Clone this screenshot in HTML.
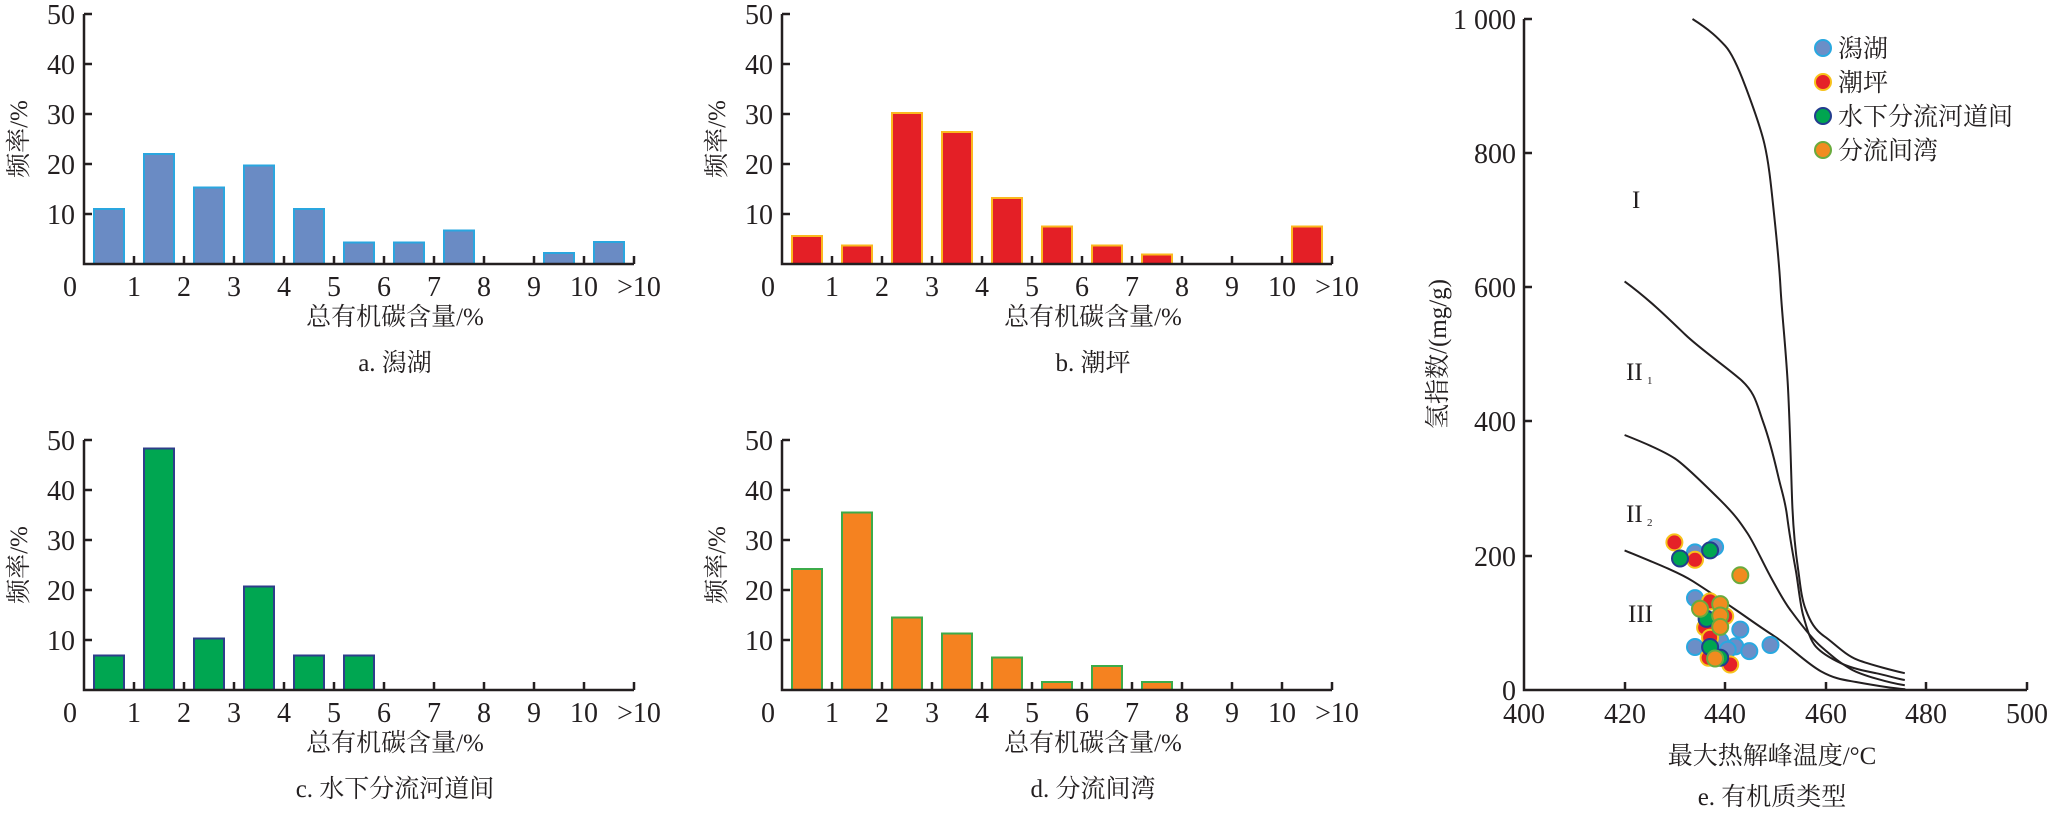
<!DOCTYPE html>
<html><head><meta charset="utf-8"><style>
html,body{margin:0;padding:0;background:#fff;}
svg{display:block;}
text{font-family:"Liberation Serif","Noto Serif CJK SC",serif;fill:#231f20;}
.n{font-size:28px;}
.t{font-size:25px;}
</style></head><body>
<svg width="2050" height="816" viewBox="0 0 2050 816" xmlns="http://www.w3.org/2000/svg">
<defs>
<g id="ax">
<path d="M0,-250V0H550M0,-50h8M0,-100h8M0,-150h8M0,-200h8M0,-250h8M50,0v-8M100,0v-8M150,0v-8M200,0v-8M250,0v-8M300,0v-8M350,0v-8M400,0v-8M450,0v-8M500,0v-8M550,0v-8" fill="none" stroke="#231f20" stroke-width="2.5"/>
<g class="n" text-anchor="end"><text x="-9" y="-40">10</text><text x="-9" y="-90">20</text><text x="-9" y="-140">30</text><text x="-9" y="-190">40</text><text x="-9" y="-240">50</text></g>
<g class="n" text-anchor="middle"><text x="-14" y="32">0</text><text x="50" y="32">1</text><text x="100" y="32">2</text><text x="150" y="32">3</text><text x="200" y="32">4</text><text x="250" y="32">5</text><text x="300" y="32">6</text><text x="350" y="32">7</text><text x="400" y="32">8</text><text x="450" y="32">9</text><text x="500" y="32">10</text><text x="555" y="32">&gt;10</text></g>
</g>
</defs>

<!-- a -->
<g transform="translate(84,264)">
<g fill="#6a8bc4" stroke="#2aa6df" stroke-width="2">
<rect x="10" y="-55" width="30" height="55"/><rect x="60" y="-110" width="30" height="110"/><rect x="110" y="-76.5" width="30" height="76.5"/><rect x="160" y="-98.5" width="30" height="98.5"/><rect x="210" y="-55" width="30" height="55"/><rect x="260" y="-21.5" width="30" height="21.5"/><rect x="310" y="-21.5" width="30" height="21.5"/><rect x="360" y="-33.5" width="30" height="33.5"/><rect x="460" y="-11" width="30" height="11"/><rect x="510" y="-22" width="30" height="22"/>
</g>
<use href="#ax"/>
<text class="t" transform="translate(-57,-125) rotate(-90)" text-anchor="middle">频率/%</text>
<text class="t" x="311" y="61" text-anchor="middle">总有机碳含量/%</text>
<text class="t" x="311" y="107" text-anchor="middle">a. 潟湖</text>
</g>

<!-- b -->
<g transform="translate(782,264)">
<g fill="#e41f26" stroke="#fbb81f" stroke-width="2">
<rect x="10" y="-28" width="30" height="28"/><rect x="60" y="-18.5" width="30" height="18.5"/><rect x="110" y="-151" width="30" height="151"/><rect x="160" y="-132" width="30" height="132"/><rect x="210" y="-66" width="30" height="66"/><rect x="260" y="-37.5" width="30" height="37.5"/><rect x="310" y="-18.5" width="30" height="18.5"/><rect x="360" y="-9.5" width="30" height="9.5"/><rect x="510" y="-37.5" width="30" height="37.5"/>
</g>
<use href="#ax"/>
<text class="t" transform="translate(-57,-125) rotate(-90)" text-anchor="middle">频率/%</text>
<text class="t" x="311" y="61" text-anchor="middle">总有机碳含量/%</text>
<text class="t" x="311" y="107" text-anchor="middle">b. 潮坪</text>
</g>

<!-- c -->
<g transform="translate(84,690)">
<g fill="#00a651" stroke="#2e3e8a" stroke-width="2">
<rect x="10" y="-34.5" width="30" height="34.5"/><rect x="60" y="-241.5" width="30" height="241.5"/><rect x="110" y="-51.5" width="30" height="51.5"/><rect x="160" y="-103.5" width="30" height="103.5"/><rect x="210" y="-34.5" width="30" height="34.5"/><rect x="260" y="-34.5" width="30" height="34.5"/>
</g>
<use href="#ax"/>
<text class="t" transform="translate(-57,-125) rotate(-90)" text-anchor="middle">频率/%</text>
<text class="t" x="311" y="61" text-anchor="middle">总有机碳含量/%</text>
<text class="t" x="311" y="107" text-anchor="middle">c. 水下分流河道间</text>
</g>

<!-- d -->
<g transform="translate(782,690)">
<g fill="#f58220" stroke="#3cab4a" stroke-width="2">
<rect x="10" y="-121" width="30" height="121"/><rect x="60" y="-177.5" width="30" height="177.5"/><rect x="110" y="-72.5" width="30" height="72.5"/><rect x="160" y="-56.5" width="30" height="56.5"/><rect x="210" y="-32.5" width="30" height="32.5"/><rect x="260" y="-8" width="30" height="8"/><rect x="310" y="-24" width="30" height="24"/><rect x="360" y="-8" width="30" height="8"/>
</g>
<use href="#ax"/>
<text class="t" transform="translate(-57,-125) rotate(-90)" text-anchor="middle">频率/%</text>
<text class="t" x="311" y="61" text-anchor="middle">总有机碳含量/%</text>
<text class="t" x="311" y="107" text-anchor="middle">d. 分流间湾</text>
</g>

<!-- e -->
<path d="M1524,19V690H2027M1524,19h8M1524,153h8M1524,287h8M1524,421h8M1524,556h8M1625,690v-8M1725,690v-8M1826,690v-8M1926,690v-8M2027,690v-8" fill="none" stroke="#231f20" stroke-width="2.5"/>
<g class="n" text-anchor="end"><text x="1516" y="700">0</text><text x="1516" y="566">200</text><text x="1516" y="431">400</text><text x="1516" y="297">600</text><text x="1516" y="163">800</text><text x="1516" y="29">1 000</text></g>
<g class="n" text-anchor="middle"><text x="1524" y="723">400</text><text x="1625" y="723">420</text><text x="1725" y="723">440</text><text x="1826" y="723">460</text><text x="1926" y="723">480</text><text x="2027" y="723">500</text></g>
<text class="t" transform="translate(1446,354) rotate(-90)" text-anchor="middle">氢指数/(mg/g)</text>
<text class="t" x="1772" y="764" text-anchor="middle">最大热解峰温度/°C</text>
<text class="t" x="1772" y="805" text-anchor="middle">e. 有机质类型</text>

<g fill="none" stroke="#231f20" stroke-width="2" stroke-linejoin="round">
<path d="M1624.6,550.4 C1660,565 1680,573 1693,581.3 S1720,599 1735.3,609.5 S1760,627 1774.5,636.3 S1806,663 1820.8,671.2 S1845,680 1856,682 S1890,688 1905.3,689.3"/>
<path d="M1624.6,435 C1650,445 1665,452 1674.9,458.5 S1705,485 1720.2,500.1 S1740,522 1747.3,533 S1763,563 1770.5,576.6 S1783,600 1790,609.5 S1810,637 1820.8,646.4 S1840,663 1851,669.2 S1890,683 1904.8,685.3"/>
<path d="M1624.6,281.4 C1650,300 1670,320 1685,334.4 S1725,366 1740.3,379.3 S1757,405 1763,421.6 S1774,458 1778,475.3 S1785,500 1787,515.5 S1793,555 1795.6,569.2 S1800,604 1803.2,615.5 S1810,640 1815.7,646.4 S1830,658 1840.9,663.2 S1865,671 1876,673.2 S1898,679 1904.8,680"/>
<path d="M1692.5,19 C1710,30 1718,38 1725.2,45.8 S1740,72 1745.3,86.1 S1760,125 1764.4,143.8 S1771,185 1773.5,208.9 S1779,260 1780.5,287.4 S1786,350 1788,388 S1791,470 1792.1,500.1 S1796,555 1798.1,569.2 S1801,597 1805.7,609.5 S1815,630 1824.3,636.3 S1845,655 1857.5,659.8 S1895,671 1904.8,673.2"/>
</g>

<g class="t" font-size="25">
<text x="1632" y="208">I</text>
<text x="1626" y="380">II</text><text x="1647" y="384" font-size="11">1</text>
<text x="1626" y="522">II</text><text x="1647" y="526" font-size="11">2</text>
<text x="1628" y="622">III</text>
</g>

<g stroke-width="2">
<g fill="#6b8ec7" stroke="#29a8e0">
<circle cx="1695" cy="552.4" r="8"/><circle cx="1715.1" cy="547.1" r="8"/><circle cx="1695" cy="598.1" r="8"/><circle cx="1740.3" cy="629.6" r="8"/><circle cx="1720.2" cy="641" r="8"/><circle cx="1695" cy="647" r="8"/><circle cx="1735.3" cy="646.4" r="8"/><circle cx="1749.3" cy="651.1" r="8"/><circle cx="1770.5" cy="645" r="8"/><circle cx="1727.7" cy="649.7" r="8"/>
</g>
<g fill="#e52128" stroke="#f7c21b">
<circle cx="1674.4" cy="542.4" r="8"/><circle cx="1695" cy="559.8" r="8"/><circle cx="1710.1" cy="601.4" r="8"/><circle cx="1725.2" cy="616.2" r="8"/><circle cx="1705.1" cy="627.6" r="8"/><circle cx="1710.1" cy="637.7" r="8"/><circle cx="1730.2" cy="664.5" r="8"/><circle cx="1708.6" cy="657.8" r="8"/>
</g>
<g fill="#00a550" stroke="#233d8e">
<circle cx="1710.1" cy="550.4" r="8"/><circle cx="1680" cy="558.5" r="8"/><circle cx="1706.6" cy="618.9" r="8"/><circle cx="1710.1" cy="647" r="8"/><circle cx="1720.2" cy="657.8" r="8"/>
</g>
<g fill="#f18b1f" stroke="#6aab3e">
<circle cx="1740.3" cy="575.3" r="8"/><circle cx="1700" cy="608.8" r="8"/><circle cx="1720.2" cy="604.1" r="8"/><circle cx="1720.2" cy="615.5" r="8"/><circle cx="1720.2" cy="626.9" r="8"/><circle cx="1715.1" cy="658.5" r="8"/>
</g>
<circle cx="1823" cy="48" r="8" fill="#6b8ec7" stroke="#29a8e0"/>
<circle cx="1823" cy="82" r="8" fill="#e52128" stroke="#f7c21b"/>
<circle cx="1823" cy="116" r="8" fill="#00a550" stroke="#233d8e"/>
<circle cx="1823" cy="150" r="8" fill="#f18b1f" stroke="#6aab3e"/>
</g>
<g class="t" font-size="24">
<text x="1838" y="57">潟湖</text>
<text x="1838" y="91">潮坪</text>
<text x="1838" y="125">水下分流河道间</text>
<text x="1838" y="159">分流间湾</text>
</g>
</svg>
</body></html>
